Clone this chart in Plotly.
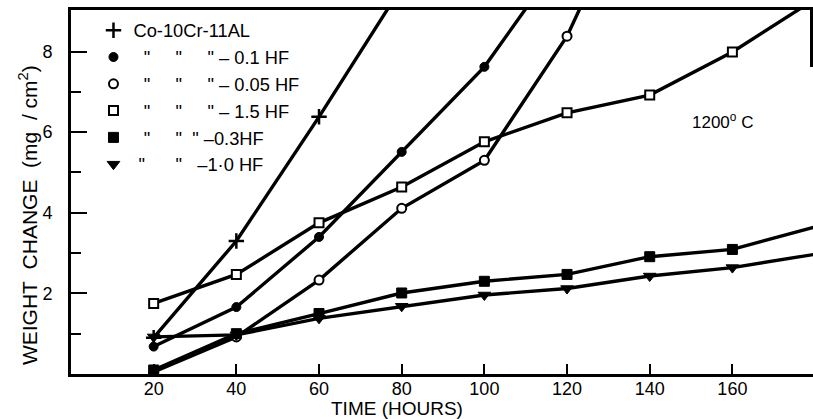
import plotly.graph_objects as go

# ---- data ----
t_co = [20, 40, 60, 80]
v_co = [0.90, 3.30, 6.38, 9.60]

t_01 = [20, 40, 60, 80, 100, 120]
v_01 = [0.68, 1.66, 3.40, 5.51, 7.62, 10.50]

t_005 = [20, 40, 60, 80, 100, 120, 140]
v_005 = [0.05, 0.92, 2.33, 4.11, 5.30, 8.38, 12.80]

t_15 = [20, 40, 60, 80, 100, 120, 140, 160, 180]
v_15 = [1.75, 2.47, 3.75, 4.64, 5.76, 6.48, 6.92, 7.99, 9.30]

t_03 = [20, 40, 60, 80, 100, 120, 140, 160, 180]
v_03 = [0.10, 1.00, 1.50, 2.01, 2.30, 2.47, 2.91, 3.09, 3.65]

t_10 = [20, 40, 60, 80, 100, 120, 140, 160, 180]
v_10 = [0.92, 0.97, 1.38, 1.68, 1.96, 2.12, 2.43, 2.64, 2.97]

x_ticks = [20, 40, 60, 80, 100, 120, 140, 160]
y_ticks = [2, 4, 6, 8]

NB = "\u00a0"
D = '"'
labels = [
    "Co-10Cr-11AL",
    f"{NB*2}{D}{NB*5}{D}{NB*5}{D}{NB}–{NB}0.1{NB}HF",
    f"{NB*2}{D}{NB*5}{D}{NB*5}{D}{NB}–{NB}0.05{NB}HF",
    f"{NB*2}{D}{NB*5}{D}{NB*5}{D}{NB}–{NB}1.5{NB}HF",
    f"{NB*2}{D}{NB*5}{D}{NB*2}{D}{NB}–0.3HF",
    f"{NB}{D}{NB*6}{D}{NB*3}–1·0{NB}HF",
]

series = [
    (t_co, v_co, dict(symbol="cross-thin", size=11, color="black", line=dict(width=2.5, color="black")), False),
    (t_01, v_01, dict(symbol="circle", size=9, color="black", line=dict(width=1, color="black")), False),
    (t_005, v_005, dict(symbol="circle", size=9, color="white", line=dict(width=2, color="black")), False),
    (t_15, v_15, dict(symbol="square", size=9, color="white", line=dict(width=2, color="black")), False),
    (t_03, v_03, dict(symbol="square", size=10, color="black", line=dict(width=1, color="black")), True),
    (t_10, v_10, dict(symbol="triangle-down", size=11, color="black", line=dict(width=1, color="black")), True),
]

fig = go.Figure()
for (tx, vy, mk, noclip), name in zip(series, labels):
    fig.add_trace(go.Scatter(
        x=tx, y=vy, mode="lines+markers",
        line=dict(color="black", width=3.4),
        marker=mk, showlegend=False, cliponaxis=not noclip,
    ))
# legend keys (marker only)
for (tx, vy, mk, noclip), name in zip(series, labels):
    fig.add_trace(go.Scatter(
        x=[None], y=[None], mode="markers", marker=mk, name=name, showlegend=True,
    ))

FONT = "Liberation Sans"

fig.update_layout(
    width=813, height=419,
    margin=dict(l=71, r=0, t=10, b=45, autoexpand=False),
    paper_bgcolor="white", plot_bgcolor="white",
    font=dict(family=FONT, color="black", size=17),
    showlegend=True,
    legend=dict(
        x=0.0303, y=0.995, xanchor="left", yanchor="top",
        bgcolor="rgba(0,0,0,0)", borderwidth=0,
        font=dict(family=FONT, size=18.3, color="black"),
        itemwidth=30, tracegroupgap=0,
    ),
    xaxis=dict(
        range=[0, 179.5], showgrid=False, zeroline=False, automargin=False,
        showline=True, linecolor="black", linewidth=3, mirror=True,
        ticks="inside", ticklen=10, tickwidth=2, tickcolor="black",
        tickvals=x_ticks, ticktext=[str(v) for v in x_ticks],
        tickfont=dict(family=FONT, size=18, color="black"),
        ticklabelstandoff=-4,
    ),
    yaxis=dict(
        range=[0, 9.03], showgrid=False, zeroline=False, automargin=False,
        showline=True, linecolor="black", linewidth=3,
        ticks="inside", ticklen=16, tickwidth=2, tickcolor="black",
        tickvals=y_ticks, ticktext=[str(v) for v in y_ticks],
        tickfont=dict(family=FONT, size=18, color="black"),
        ticklabelstandoff=12,
        minor=dict(tickvals=[1, 3, 5, 7], ticks="inside", ticklen=10, tickwidth=2, tickcolor="black"),
    ),
    shapes=[
        dict(type="line", xref="paper", yref="paper",
             x0=(811.5 - 71) / 742, x1=(811.5 - 71) / 742, y0=(373.8 - 67) / 363.8, y1=1,
             line=dict(color="black", width=3)),
    ],
    annotations=[
        dict(text="TIME (HOURS)", xref="paper", yref="paper", x=(397 - 71) / 742, y=-0.06,
             xanchor="center", yanchor="top", showarrow=False,
             font=dict(family=FONT, size=19, color="black")),
        dict(text=f"WEIGHT{NB*2}CHANGE{NB*2}(mg{NB*2}/{NB}cm<sup>2</sup>)", xref="paper", yref="paper",
             x=-0.058, y=(373.8 - 215) / 363.8, xanchor="center", yanchor="middle",
             textangle=-90, showarrow=False,
             font=dict(family=FONT, size=21, color="black")),
        dict(text="1200<sup>o</sup> C", xref="paper", yref="paper",
             x=(690 - 71) / 742, y=(373.8 - 121) / 363.8, xanchor="left", yanchor="middle",
             showarrow=False, font=dict(family=FONT, size=17, color="black")),
    ],
)

fig.write_html("out.html", config={"displayModeBar": False},
               post_script="document.body.style.margin='0px';")
